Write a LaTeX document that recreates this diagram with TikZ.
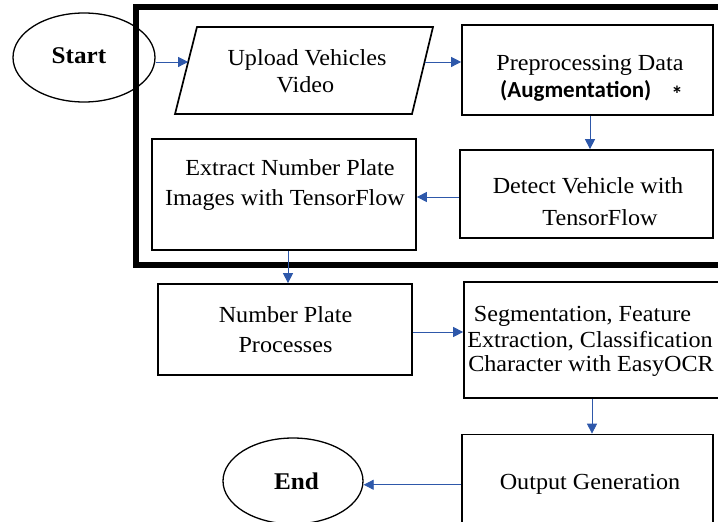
\documentclass[tikz,border=0pt]{standalone}
\usepackage{fontspec}
\setmainfont{Liberation Serif}[FakeStretch=1.05]
\newfontfamily\augfont{Carlito}
\usetikzlibrary{arrows.meta,shapes.geometric,calc}
\definecolor{arrblue}{RGB}{46,88,170}
\begin{document}
\begin{tikzpicture}[x=1pt,y=-1pt,
  box/.style={draw, rectangle, line width=1.7pt, inner sep=0pt},
  oval/.style={draw, ellipse, line width=1.3pt, inner sep=0pt},
  slantline/.style={draw, line width=1.7pt, line join=miter},
  txt/.style={anchor=base, inner sep=0pt, font=\fontsize{23}{27}\selectfont},
  btxt/.style={anchor=base, inner sep=0pt, font=\fontsize{24}{27}\selectfont\bfseries},
  stxt/.style={anchor=base, inner sep=0pt, font=\augfont\bfseries\fontsize{23}{27}\selectfont},
  arr/.style={draw=arrblue, line width=0.8pt, -{Triangle[length=10pt,width=10pt]}},
  frameline/.style={draw, line width=6pt}]
\useasboundingbox (0,0) rectangle (718,522);

% shapes
\node[oval, minimum width=142pt, minimum height=89pt] (start) at (84,57.5) {};
\coordinate (upTL) at (197,27);
\coordinate (upTR) at (433,27);
\coordinate (upBR) at (412,114);
\coordinate (upBL) at (175,114);
\draw[slantline] (upTL) -- (upTR) -- (upBR) -- (upBL) -- cycle;
\node[box, minimum width=251pt, minimum height=90pt] (pre) at (587.5,70) {};
\node[box, minimum width=253pt, minimum height=88pt] (det) at (586.5,194) {};
\node[box, minimum width=264pt, minimum height=111pt] (ext) at (284,194.5) {};
\node[box, minimum width=254pt, minimum height=91pt] (np) at (285,329.5) {};
\node[box, minimum width=261pt, minimum height=116pt] (seg) at (594.5,340) {};
\node[box, minimum width=251pt, minimum height=100.5pt] (out) at (587.5,484.75) {};
\node[oval, minimum width=140pt, minimum height=86pt] (end) at (293,481) {};

% thick frame
\draw[frameline] (136,7) rectangle (725,265);

% texts
\node[btxt] (tstart) at (79,63) {Start};
\node[txt] (tup1) at (307,65) {Upload Vehicles};
\node[txt] (tup2) at (305.5,92) {Video};
\node[txt] (tpre1) at (590,70) {Preprocessing Data};
\node[stxt] (tpre2) at (591.5,97) {(Augmenta\kern0pt tion)\hspace*{20pt}\raisebox{-5pt}{*}};
\node[txt] (tdet1) at (588,193) {Detect Vehicle with};
\node[txt] (tdet2) at (600,225) {TensorFlow};
\node[txt] (text1) at (290,175) {Extract Number Plate};
\node[txt] (text2) at (285,205) {Images with TensorFlow};
\node[txt] (tnp1) at (285.5,322) {Number Plate};
\node[txt] (tnp2) at (285.5,352) {Processes};
\node[txt] (tseg1) at (582.5,321) {Segmentation, Feature};
\node[txt] (tseg2) at (590,347) {Extraction, Classification};
\node[txt] (tseg3) at (591,371) {Character with EasyOCR};
\node[txt] (tout) at (590,489) {Output Generation};
\node[btxt] (tend) at (296.5,489) {End};

% connection points on the slanted sides
\coordinate (upin) at ($(upBL)!0.598!(upTL)$);
\coordinate (upout) at ($(upBR)!0.598!(upTR)$);

% connectors
\draw[arr] (start.east |- upin) -- (upin);
\draw[arr] (upout) -- (pre.west |- upout);
\draw[arr] ([xshift=2.5pt]pre.south) -- ([xshift=2.5pt]pre.south |- det.north);
\draw[arr] ([yshift=-3pt]det.west) -- ([yshift=-3pt]det.west -| ext.east);
\draw[arr] ([xshift=4pt]ext.south) -- ([xshift=4pt]ext.south |- np.north);
\draw[arr] ([yshift=-2.5pt]np.east) -- ([yshift=-2.5pt]np.east -| seg.west);
\draw[arr] ([xshift=4.5pt]out.north |- seg.south) -- ([xshift=4.5pt]out.north);
\draw[arr] (out.west) -- (out.west -| end.east);
\end{tikzpicture}
\end{document}
